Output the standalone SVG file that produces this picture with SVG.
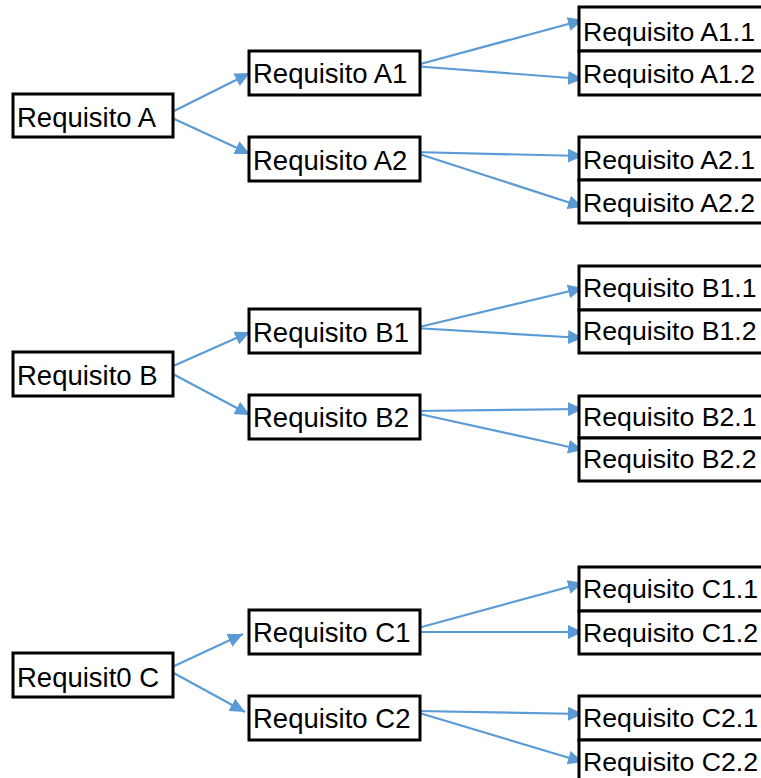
<svg xmlns="http://www.w3.org/2000/svg" width="761" height="778" viewBox="0 0 761 778">
  <defs>
    <marker id="arrow" markerUnits="userSpaceOnUse" markerWidth="16" markerHeight="14" refX="15" refY="7" orient="auto">
      <path d="M0,0 L15,7 L0,14 z" fill="#5B9BD5"/>
    </marker>
    <style>
      .box { fill: #ffffff; stroke: #000000; stroke-width: 3; }
      .lbl { font-family: "Liberation Sans", Arial, sans-serif; font-size: 27.5px; fill: #000000; }
      .leaf { font-size: 26.7px; }
      .edge { stroke: #5B9BD5; stroke-width: 2.2; fill: none; marker-end: url(#arrow); }
    </style>
  </defs>
  <rect width="761" height="778" fill="#ffffff"/>

  <!-- connectors -->
  <g id="connectors">
    <line class="edge" x1="170" y1="113" x2="250" y2="73"/>
    <line class="edge" x1="170" y1="117" x2="250" y2="154"/>
    <line class="edge" x1="413" y1="66" x2="583" y2="20"/>
    <line class="edge" x1="413" y1="66" x2="583" y2="79"/>
    <line class="edge" x1="413" y1="152" x2="583" y2="156"/>
    <line class="edge" x1="413" y1="152" x2="583" y2="207"/>

    <line class="edge" x1="171" y1="367" x2="250" y2="332"/>
    <line class="edge" x1="171" y1="373" x2="250" y2="415"/>
    <line class="edge" x1="415" y1="328" x2="583" y2="288"/>
    <line class="edge" x1="415" y1="328" x2="583" y2="338"/>
    <line class="edge" x1="415" y1="411" x2="583" y2="409"/>
    <line class="edge" x1="415" y1="413" x2="583" y2="450"/>

    <line class="edge" x1="170" y1="668" x2="243" y2="634"/>
    <line class="edge" x1="170" y1="671" x2="245" y2="712"/>
    <line class="edge" x1="418" y1="628" x2="583" y2="583"/>
    <line class="edge" x1="418" y1="632" x2="583" y2="632"/>
    <line class="edge" x1="416" y1="711" x2="583" y2="714"/>
    <line class="edge" x1="416" y1="712" x2="583" y2="762"/>
  </g>

  <!-- group A -->
  <g id="req-a"><rect class="box" x="13" y="94" width="160" height="43"/><text class="lbl" x="17" y="127">Requisito A</text></g>
  <g id="req-a1"><rect class="box" x="249" y="51" width="171" height="44"/><text class="lbl" x="253" y="83">Requisito A1</text></g>
  <g id="req-a2"><rect class="box" x="249" y="137" width="171" height="44"/><text class="lbl" x="253" y="170">Requisito A2</text></g>
  <g id="req-a1-1"><rect class="box" x="579" y="7" width="200" height="44"/><text class="lbl leaf" x="583" y="41">Requisito A1.1</text></g>
  <g id="req-a1-2"><rect class="box" x="579" y="51" width="200" height="44"/><text class="lbl leaf" x="583" y="83">Requisito A1.2</text></g>
  <g id="req-a2-1"><rect class="box" x="579" y="137" width="200" height="43"/><text class="lbl leaf" x="583" y="169">Requisito A2.1</text></g>
  <g id="req-a2-2"><rect class="box" x="579" y="180" width="200" height="43"/><text class="lbl leaf" x="583" y="212">Requisito A2.2</text></g>

  <!-- group B -->
  <g id="req-b"><rect class="box" x="13" y="352" width="160" height="44"/><text class="lbl" x="17" y="385">Requisito B</text></g>
  <g id="req-b1"><rect class="box" x="249" y="309" width="171" height="44"/><text class="lbl" x="253" y="342">Requisito B1</text></g>
  <g id="req-b2"><rect class="box" x="249" y="395" width="171" height="44"/><text class="lbl" x="253" y="427">Requisito B2</text></g>
  <g id="req-b1-1"><rect class="box" x="579" y="266" width="200" height="44"/><text class="lbl leaf" x="583" y="297">Requisito B1.1</text></g>
  <g id="req-b1-2"><rect class="box" x="579" y="310" width="200" height="43"/><text class="lbl leaf" x="583" y="340">Requisito B1.2</text></g>
  <g id="req-b2-1"><rect class="box" x="579" y="396" width="200" height="42"/><text class="lbl leaf" x="583" y="426">Requisito B2.1</text></g>
  <g id="req-b2-2"><rect class="box" x="579" y="438" width="200" height="43"/><text class="lbl leaf" x="583" y="468">Requisito B2.2</text></g>

  <!-- group C -->
  <g id="req-c"><rect class="box" x="13" y="653" width="160" height="44"/><text class="lbl" x="17" y="687">Requisit0 C</text></g>
  <g id="req-c1"><rect class="box" x="249" y="610" width="171" height="44"/><text class="lbl" x="253" y="642">Requisito C1</text></g>
  <g id="req-c2"><rect class="box" x="249" y="696" width="171" height="44"/><text class="lbl" x="253" y="728">Requisito C2</text></g>
  <g id="req-c1-1"><rect class="box" x="579" y="567" width="200" height="44"/><text class="lbl leaf" x="583" y="598">Requisito C1.1</text></g>
  <g id="req-c1-2"><rect class="box" x="579" y="611" width="200" height="43"/><text class="lbl leaf" x="583" y="642">Requisito C1.2</text></g>
  <g id="req-c2-1"><rect class="box" x="579" y="696" width="200" height="44"/><text class="lbl leaf" x="583" y="727">Requisito C2.1</text></g>
  <g id="req-c2-2"><rect class="box" x="579" y="740" width="200" height="44"/><text class="lbl leaf" x="583" y="771">Requisito C2.2</text></g>
</svg>
